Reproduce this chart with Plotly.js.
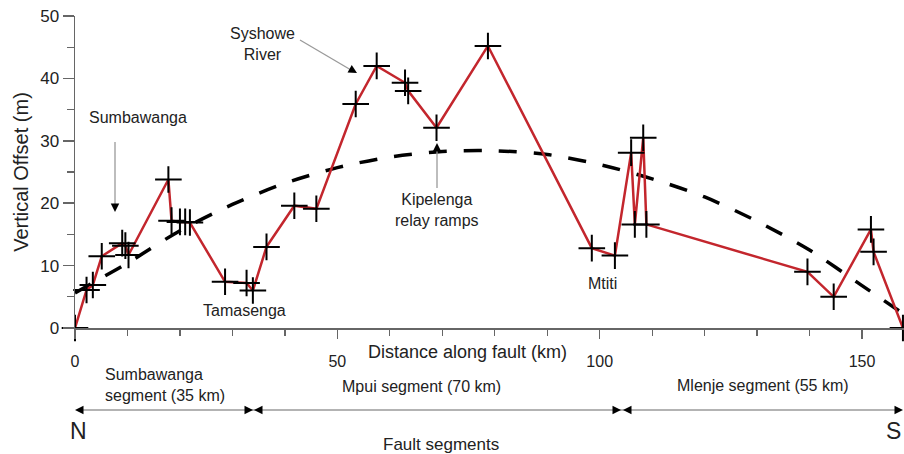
<!DOCTYPE html>
<html>
<head>
<meta charset="utf-8">
<script src="https://cdn.plot.ly/plotly-3.0.1.min.js"></script>
<style>html,body{margin:0;padding:0;background:#fff}#chart{width:904px;height:454px}</style>
</head>
<body>
<div id="chart"></div>
<script>
// Measured throw profile (distance km, vertical offset m)
var distance = [0, 2.2, 3.4, 5.1, 9.0, 9.6, 10.2, 17.8, 18.4, 20.0, 21.0, 21.9, 28.6, 32.7, 33.9, 36.5, 41.8, 46.0, 53.5, 57.5, 62.9, 63.5, 68.9, 78.7, 98.5, 102.9, 106.0, 106.7, 108.3, 108.9, 139.6, 144.6, 151.7, 152.2, 157.8];
var offset   = [0, 6.1, 6.9, 11.5, 13.6, 13.2, 11.7, 23.8, 17.2, 17.0, 17.0, 16.9, 7.4, 7.2, 6.0, 13.0, 19.6, 19.1, 35.9, 42.0, 39.3, 38.0, 32.1, 45.2, 12.8, 11.6, 28.1, 16.6, 30.5, 16.6, 9.0, 5.0, 15.8, 12.2, 0];

// Dashed envelope curve
var envDistance = [0, 5, 10, 20, 30, 40, 50, 60, 70, 80, 90, 100, 110, 120, 130, 140, 150, 158];
var envOffset   = [5.6, 8.0, 10.4, 15.6, 19.8, 23.2, 25.7, 27.4, 28.3, 28.4, 27.8, 26.2, 23.9, 21.0, 17.1, 12.5, 6.8, 2.2];

var xTickVals = [0, 50, 100, 150];
var yTickVals = [0, 10, 20, 30, 40, 50];

// layout geometry (pixels)
var L = 75, T = 16, W = 829, H = 312;
function pxX(p){ return (p - L) / W; }
function pxY(p){ return (T + H - p) / H; }

var txt = '#222';
var fnt = 'Liberation Sans, Arial, sans-serif';

var traces = [
  {x: envDistance, y: envOffset, mode: 'lines', type: 'scatter',
   line: {color: '#000', width: 3.5, dash: '18px,17px', shape: 'spline', smoothing: 0.8},
   hoverinfo: 'skip', cliponaxis: false},
  {x: distance, y: offset, mode: 'lines+markers', type: 'scatter',
   line: {color: '#c3262d', width: 2.5},
   marker: {symbol: 'cross-thin', size: 19, line: {color: '#000', width: 2}},
   cliponaxis: false}
];

function label(text, x, y, size, opts){
  var a = {text: text, xref: 'paper', yref: 'paper', x: pxX(x), y: pxY(y),
    showarrow: false, xanchor: 'center', yanchor: 'middle',
    font: {family: fnt, size: size || 16, color: txt}};
  if (opts) for (var k in opts) a[k] = opts[k];
  return a;
}
function head(x, y, dx, dy){
  // tip at (x,y); tail offset (dx,dy) in pixels
  return {text: '', xref: 'paper', yref: 'paper', x: pxX(x), y: pxY(y),
    ax: dx, ay: dy, showarrow: true, arrowhead: 2, arrowsize: 1.7, arrowwidth: 1,
    arrowcolor: '#000', standoff: 0};
}
function seg(x0, y0, x1, y1){
  return {type: 'line', xref: 'paper', yref: 'paper', x0: pxX(x0), y0: pxY(y0), x1: pxX(x1), y1: pxY(y1),
    line: {color: '#9a9a9a', width: 1.3}};
}

var annotations = [
  label('Syshowe<br>River', 262, 44),
  label('Sumbawanga', 138, 118),
  label('Tamasenga', 244, 310),
  label('Kipelenga<br>relay ramps', 437, 210),
  label('Mtiti', 602, 283),
  label('Distance along fault (km)', 467, 352, 18),
  label('Sumbawanga<br>segment (35 km)', 103, 385, 16, {xanchor: 'left', align: 'left'}),
  label('Mpui segment (70 km)', 421, 386),
  label('Mlenje segment (55 km)', 763, 385),
  label('N', 78, 431, 23),
  label('S', 903, 431, 23, {xanchor: 'right'}),
  label('Fault segments', 441, 444, 17),
  head(115, 212, 0, -8),
  head(437, 143, 0, 8),
  head(357, 73, -7, -4),
  head(75, 410, 8, 0),
  head(253, 410, -8, 0),
  head(254, 410, 8, 0),
  head(621, 410, -8, 0),
  head(623, 410, 8, 0),
  head(903, 410, -8, 0)
];

var shapes = [
  seg(115, 142, 115, 205),
  seg(437, 150, 437, 188),
  seg(300, 40, 351, 70),
  seg(80, 410, 898, 410)
];

var layout = {
  width: 904, height: 454,
  margin: {l: L, r: 904 - L - W, t: T, b: 454 - T - H, pad: 0},
  paper_bgcolor: '#fff', plot_bgcolor: '#fff',
  showlegend: false,
  font: {family: fnt, color: txt},
  xaxis: {range: [0, 158], showgrid: false, zeroline: false,
    showline: true, linecolor: '#666', linewidth: 1.5,
    tickmode: 'array', tickvals: xTickVals, ticks: 'outside', ticklen: 9, tickwidth: 1.5, tickcolor: '#666',
    ticklabelstandoff: 9,
    minor: {dtick: 10, ticks: 'outside', ticklen: 6, tickwidth: 1.3, tickcolor: '#666'},
    tickfont: {family: fnt, size: 16, color: txt}},
  yaxis: {range: [0, 50], showgrid: false, zeroline: false,
    showline: true, linecolor: '#666', linewidth: 1.5,
    tickmode: 'array', tickvals: yTickVals, ticks: 'outside', ticklen: 11, tickwidth: 1.5, tickcolor: '#666',
    minor: {dtick: 5, ticks: 'outside', ticklen: 7, tickwidth: 1.3, tickcolor: '#666'},
    tickfont: {family: fnt, size: 17, color: txt},
    title: {text: 'Vertical Offset (m)', font: {family: fnt, size: 20, color: txt}, standoff: 6}},
  annotations: annotations,
  shapes: shapes
};

Plotly.newPlot('chart', traces, layout, {displayModeBar: false, staticPlot: true});
</script>
</body>
</html>
